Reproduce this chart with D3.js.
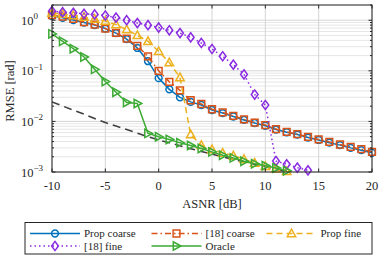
<!DOCTYPE html>
<html><head><meta charset="utf-8">
<script src="https://cdn.jsdelivr.net/npm/d3@7"></script>
<style>body{margin:0;background:#fff} svg{display:block} text{font-family:"Liberation Serif","DejaVu Serif",serif;}</style>
</head><body><svg id="c" width="381" height="257"></svg>
<script>
// ---------- data ----------
const asnr = [-10,-9,-8,-7,-6,-5,-4,-3,-2,-1,0,1,2,3,4,5,6,7,8,9,10,11,12,13,14,15,16,17,18,19,20];
const propCoarse = [1.21,1.12,1.01,0.90,0.80,0.684,0.556,0.423,0.283,0.155,0.0717,0.043,0.0298,0.0243,0.0211,0.0168,0.0146,0.0125,0.0107,0.0093,0.0082,0.0069,0.0061,0.0055,0.0048,0.0043,0.0038,0.0034,0.0030,0.0027,0.0024];
const ref18Coarse = [1.27,1.18,1.06,0.92,0.82,0.684,0.562,0.433,0.31,0.193,0.100,0.0605,0.041,0.0262,0.0221,0.0174,0.0151,0.0129,0.011,0.0095,0.00847,0.00705,0.00623,0.0056,0.00496,0.0044,0.00394,0.0035,0.00314,0.00282,0.0025];
const propFineX = [-10,-9,-8,-7,-6,-5,-4,-3,-2,-1,0,1,2,3,4,5,6,7,8,9,10,11,12,13];
const propFine = [1.39,1.33,1.24,1.16,1.06,0.96,0.82,0.653,0.503,0.383,0.242,0.146,0.0736,0.00548,0.00339,0.00279,0.00238,0.0021,0.00179,0.00151,0.0013,0.00116,0.00103,0.0009];
const ref18FineX = [-10,-9,-8,-7,-6,-5,-4,-3,-2,-1,0,1,2,3,4,5,6,7,8,9,10,11,12,13,14,15];
const ref18Fine = [1.52,1.44,1.40,1.34,1.30,1.24,1.13,1.0,0.88,0.80,0.716,0.633,0.557,0.46,0.355,0.27,0.194,0.132,0.085,0.034,0.0211,0.00165,0.00142,0.00122,0.00108,0.0007];
const oracleX = [-10,-9,-8,-7,-6,-5,-4,-3,-2,-1,0,1,2,3,4,5,6,7,8,9,10,11,12];
const oracle = [0.537,0.383,0.274,0.1875,0.107,0.0614,0.0378,0.0237,0.0226,0.0058,0.00496,0.0044,0.00377,0.00334,0.00292,0.0025,0.00215,0.0019,0.00163,0.00146,0.00133,0.0012,0.00106];
const crbX = [-10,-9,-8,-7,-6,-5,-4,-3,-2,-1,0,1,2,3,4,5,6,7,8,9,10,11,12,13];
const crb = [0.0243,0.0201,0.01667,0.01387,0.01145,0.00949,0.00809,0.00689,0.00587,0.0050,0.0043,0.00377,0.0033,0.00289,0.00254,0.00225,0.0020,0.00178,0.00159,0.00142,0.00127,0.00114,0.00102,0.00092];
const xTicks = [-10,-5,0,5,10,15,20];
const yTickExps = [0,-1,-2,-3];
const legendLabels = ["Prop coarse","[18] coarse","Prop fine","[18] fine","Oracle"];

// ---------- layout ----------
const svg = d3.select("#c");
const L = 52, R = 372, T = 5, B = 172;
const x = d3.scaleLinear().domain([-10,20]).range([L,R]);
const y = d3.scaleLog().domain([1e-3,2]).range([B,T]);
const ink = "#262626";

// grid
const g = svg.append("g");
const minorVals = [];
[-3,-2,-1,0].forEach(e => { for (let k=1;k<10;k++){ const v=k*Math.pow(10,e); if (v<=2) minorVals.push(v);} });
const isMajor = d => [1,0.1,0.01,0.001].some(m=>Math.abs(d-m)/m<1e-6);
g.selectAll(".hg").data(minorVals).join("line")
  .attr("x1",L).attr("x2",R).attr("y1",d=>y(d)).attr("y2",d=>y(d))
  .attr("stroke", d => isMajor(d) ? "#d4d4d4" : "#e6e6e6")
  .attr("stroke-width",1);
g.selectAll(".vg").data(xTicks).join("line")
  .attr("x1",d=>x(d)).attr("x2",d=>x(d)).attr("y1",T).attr("y2",B)
  .attr("stroke","#d4d4d4").attr("stroke-width",1);

// series
const series = [
  {xs: crbX, ys: crb, color:"#404040", dash:"8,5", marker:null, w:1.6},
  {xs: asnr, ys: propCoarse, color:"#0072BD", dash:null, marker:"circle", w:1.5},
  {xs: asnr, ys: ref18Coarse, color:"#D95319", dash:"6,3,1.5,3", marker:"square", w:1.5},
  {xs: propFineX, ys: propFine, color:"#EDB120", dash:"6,4", marker:"triUp", w:1.5},
  {xs: ref18FineX, ys: ref18Fine, color:"#8A2BE2", dash:"1.5,3", marker:"diamond", w:1.5},
  {xs: oracleX, ys: oracle, color:"#3DAA35", dash:null, marker:"triRight", w:1.5},
];

function markerPath(type, cx, cy) {
  const s = 3.4;
  switch(type){
    case "circle": return `M${cx+s},${cy} A${s},${s} 0 1,1 ${cx-s},${cy} A${s},${s} 0 1,1 ${cx+s},${cy} Z`;
    case "square": return `M${cx-s},${cy-s} H${cx+s} V${cy+s} H${cx-s} Z`;
    case "triUp": return `M${cx},${cy-4.4} L${cx+4.2},${cy+3.2} L${cx-4.2},${cy+3.2} Z`;
    case "diamond": return `M${cx},${cy-4.6} L${cx+3.4},${cy} L${cx},${cy+4.6} L${cx-3.4},${cy} Z`;
    case "triRight": return `M${cx+4.4},${cy} L${cx-3.2},${cy-4.2} L${cx-3.2},${cy+4.2} Z`;
  }
}

svg.append("clipPath").attr("id","clip").append("rect").attr("x",L).attr("y",T).attr("width",R-L).attr("height",B-T);
const line = d3.line().x(d=>x(d[0])).y(d=>y(d[1]));
series.forEach(s => {
  const pts = s.xs.map((v,i)=>[v,s.ys[i]]);
  svg.append("path").attr("d", line(pts)).attr("clip-path","url(#clip)")
    .attr("fill","none").attr("stroke",s.color).attr("stroke-width",s.w)
    .attr("stroke-dasharray", s.dash).attr("stroke-linejoin","round");
  if (s.marker) {
    svg.append("g").selectAll("path").data(pts.filter(p=>p[1]>=0.00098)).join("path")
      .attr("d", p => markerPath(s.marker, x(p[0]), y(p[1])))
      .attr("fill","none").attr("stroke",s.color).attr("stroke-width",1.5);
  }
});

// axes box
const ax = svg.append("g").attr("stroke",ink).attr("stroke-width",1).attr("fill","none");
ax.append("rect").attr("x",L).attr("y",T).attr("width",R-L).attr("height",B-T);
xTicks.forEach(v => {
  ax.append("line").attr("x1",x(v)).attr("x2",x(v)).attr("y1",B).attr("y2",B-3.5);
  ax.append("line").attr("x1",x(v)).attr("x2",x(v)).attr("y1",T).attr("y2",T+3.5);
});
minorVals.forEach(v => {
  const len = isMajor(v) ? 3.5 : 2;
  ax.append("line").attr("x1",L).attr("x2",L+len).attr("y1",y(v)).attr("y2",y(v));
  ax.append("line").attr("x1",R).attr("x2",R-len).attr("y1",y(v)).attr("y2",y(v));
});

// tick labels
svg.append("g").selectAll("text").data(xTicks).join("text")
  .attr("x",d=>x(d)).attr("y",190).attr("text-anchor","middle")
  .attr("font-size",12.5).attr("fill",ink)
  .text(d=>d);
const yl = svg.append("g").selectAll("text").data(yTickExps).join("text")
  .attr("x",21).attr("y",d=>y(Math.pow(10,d))+4.5)
  .attr("font-size",12.5).attr("fill",ink);
yl.append("tspan").text("10");
yl.append("tspan").attr("dy",-5.5).attr("font-size",9).text(d => d===0 ? "0" : "\u2212"+(-d));

// axis titles
svg.append("text").attr("x",212).attr("y",208).attr("text-anchor","middle")
  .attr("font-size",12.5).attr("fill",ink).text("ASNR [dB]");
svg.append("text").attr("transform","translate(14,91) rotate(-90)").attr("text-anchor","middle")
  .attr("font-size",12.5).attr("fill",ink).text("RMSE [rad]");

// legend
const lg = svg.append("g");
lg.append("rect").attr("x",25).attr("y",222.5).attr("width",347).attr("height",31.5)
  .attr("fill","#fff").attr("stroke",ink).attr("stroke-width",1);
const legPos = [[30,233.5],[151.5,233.5],[266.5,233.5],[30,246],[151.5,246]];
const legSeries = series.slice(1);
legSeries.forEach((s,i) => {
  const [lx,ly] = legPos[i];
  lg.append("line").attr("x1",lx).attr("x2",lx+50).attr("y1",ly).attr("y2",ly)
    .attr("stroke",s.color).attr("stroke-width",1.5).attr("stroke-dasharray",s.dash);
  lg.append("path").attr("d",markerPath(s.marker,lx+25,ly)).attr("fill","none")
    .attr("stroke",s.color).attr("stroke-width",1.5);
  lg.append("text").attr("x",lx+54).attr("y",ly+3.8)
    .attr("font-size",11).attr("fill",ink).text(legendLabels[i]);
});
</script></body></html>
